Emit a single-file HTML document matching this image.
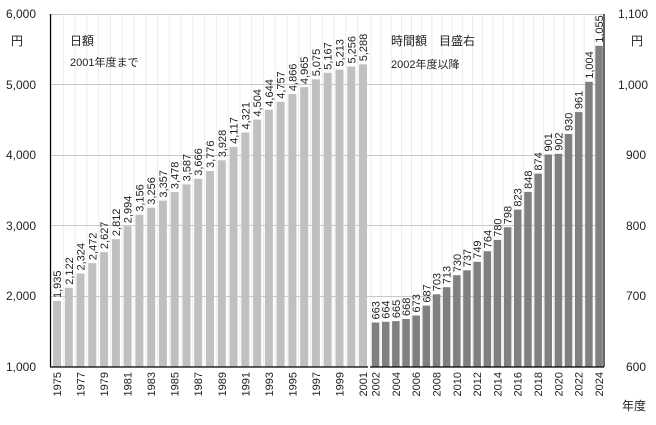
<!DOCTYPE html>
<html><head><meta charset="utf-8"><style>
html,body{margin:0;padding:0;background:#fff}
svg{display:block;font-family:"Liberation Sans","Noto Sans CJK JP",sans-serif}
</style></head><body>
<svg width="656" height="425" viewBox="0 0 656 425" xmlns="http://www.w3.org/2000/svg">
<defs>
<pattern id="pl" patternUnits="userSpaceOnUse" x="51.1" y="0" width="11.77" height="425"><line x1="0.5" y1="0" x2="0.5" y2="425" stroke="#ececec" stroke-width="1"/></pattern>
<pattern id="pr" patternUnits="userSpaceOnUse" x="370.4" y="0" width="10.16" height="425"><line x1="0.5" y1="0" x2="0.5" y2="425" stroke="#ececec" stroke-width="1"/></pattern>
</defs>
<rect x="51" y="14" width="317" height="353" fill="url(#pl)"/>
<rect x="370" y="14" width="234" height="353" fill="url(#pr)"/>
<g stroke="#c8c8c8" stroke-width="1">
<line x1="50" y1="14.5" x2="604" y2="14.5"/>
<line x1="50" y1="84.5" x2="604" y2="84.5"/>
<line x1="50" y1="155.5" x2="604" y2="155.5"/>
<line x1="50" y1="225.5" x2="604" y2="225.5"/>
<line x1="50" y1="296.5" x2="604" y2="296.5"/>
</g>
<g fill="#c0c0c0">
<rect x="53" y="301" width="8" height="66"/>
<rect x="64.8" y="287.8" width="8" height="79.2"/>
<rect x="76.5" y="273.5" width="8" height="93.5"/>
<rect x="88.3" y="263.1" width="8" height="103.9"/>
<rect x="100.1" y="252.1" width="8" height="114.9"/>
<rect x="111.9" y="239.1" width="8" height="127.9"/>
<rect x="123.6" y="226.2" width="8" height="140.8"/>
<rect x="135.4" y="214.8" width="8" height="152.2"/>
<rect x="147.2" y="207.7" width="8" height="159.3"/>
<rect x="158.9" y="200.6" width="8" height="166.4"/>
<rect x="170.7" y="192.1" width="8" height="174.9"/>
<rect x="182.5" y="184.4" width="8" height="182.6"/>
<rect x="194.2" y="178.8" width="8" height="188.2"/>
<rect x="206" y="171" width="8" height="196"/>
<rect x="217.8" y="160.3" width="8" height="206.7"/>
<rect x="229.6" y="146.9" width="8" height="220.1"/>
<rect x="241.3" y="132.5" width="8" height="234.5"/>
<rect x="253.1" y="119.6" width="8" height="247.4"/>
<rect x="264.9" y="109.7" width="8" height="257.3"/>
<rect x="276.6" y="101.8" width="8" height="265.2"/>
<rect x="288.4" y="94.1" width="8" height="272.9"/>
<rect x="300.2" y="87.1" width="8" height="279.9"/>
<rect x="311.9" y="79.3" width="8" height="287.7"/>
<rect x="323.7" y="72.8" width="8" height="294.2"/>
<rect x="335.5" y="69.6" width="8" height="297.4"/>
<rect x="347.3" y="66.5" width="8" height="300.5"/>
<rect x="359" y="64.3" width="8" height="302.7"/>
</g>
<g fill="#808080">
<rect x="371.8" y="322.5" width="7.5" height="44.5"/>
<rect x="382" y="321.8" width="7.5" height="45.2"/>
<rect x="392.1" y="321.1" width="7.5" height="45.9"/>
<rect x="402.3" y="319" width="7.5" height="48"/>
<rect x="412.4" y="315.5" width="7.5" height="51.5"/>
<rect x="422.6" y="305.6" width="7.5" height="61.4"/>
<rect x="432.8" y="294.3" width="7.5" height="72.7"/>
<rect x="442.9" y="287.2" width="7.5" height="79.8"/>
<rect x="453.1" y="275.2" width="7.5" height="91.8"/>
<rect x="463.2" y="270.3" width="7.5" height="96.7"/>
<rect x="473.4" y="261.8" width="7.5" height="105.2"/>
<rect x="483.6" y="251.2" width="7.5" height="115.8"/>
<rect x="493.7" y="239.9" width="7.5" height="127.1"/>
<rect x="503.9" y="227.2" width="7.5" height="139.8"/>
<rect x="514" y="209.6" width="7.5" height="157.4"/>
<rect x="524.2" y="191.9" width="7.5" height="175.1"/>
<rect x="534.4" y="173.6" width="7.5" height="193.4"/>
<rect x="544.5" y="154.5" width="7.5" height="212.5"/>
<rect x="554.7" y="153.8" width="7.5" height="213.2"/>
<rect x="564.8" y="134" width="7.5" height="233"/>
<rect x="575" y="112.1" width="7.5" height="254.9"/>
<rect x="585.2" y="81.8" width="7.5" height="285.2"/>
<rect x="595.3" y="45.8" width="7.5" height="321.2"/>
</g>
<g stroke="#000" stroke-width="1.2">
<line x1="50.5" y1="14" x2="50.5" y2="367"/>
<line x1="604" y1="14" x2="604" y2="367"/>
<line x1="50" y1="367" x2="368" y2="367"/>
<line x1="370" y1="367" x2="604" y2="367"/>
</g>
<g font-size="11" fill="#222">
<text transform="translate(61,298) rotate(-90)">1,935</text>
<text transform="translate(72.8,284.8) rotate(-90)">2,122</text>
<text transform="translate(84.5,270.5) rotate(-90)">2,324</text>
<text transform="translate(96.3,260.1) rotate(-90)">2,472</text>
<text transform="translate(108.1,249.1) rotate(-90)">2,627</text>
<text transform="translate(119.9,236.1) rotate(-90)">2,812</text>
<text transform="translate(131.6,223.2) rotate(-90)">2,994</text>
<text transform="translate(143.4,211.8) rotate(-90)">3,156</text>
<text transform="translate(155.2,204.7) rotate(-90)">3,256</text>
<text transform="translate(166.9,197.6) rotate(-90)">3,357</text>
<text transform="translate(178.7,189.1) rotate(-90)">3,478</text>
<text transform="translate(190.5,181.4) rotate(-90)">3,587</text>
<text transform="translate(202.2,175.8) rotate(-90)">3,666</text>
<text transform="translate(214,168) rotate(-90)">3,776</text>
<text transform="translate(225.8,157.3) rotate(-90)">3,928</text>
<text transform="translate(237.6,143.9) rotate(-90)">4,117</text>
<text transform="translate(249.3,129.5) rotate(-90)">4,321</text>
<text transform="translate(261.1,116.6) rotate(-90)">4,504</text>
<text transform="translate(272.9,106.7) rotate(-90)">4,644</text>
<text transform="translate(284.6,98.8) rotate(-90)">4,757</text>
<text transform="translate(296.4,91.1) rotate(-90)">4,866</text>
<text transform="translate(308.2,84.1) rotate(-90)">4,965</text>
<text transform="translate(319.9,76.3) rotate(-90)">5,075</text>
<text transform="translate(331.7,69.8) rotate(-90)">5,167</text>
<text transform="translate(343.5,66.6) rotate(-90)">5,213</text>
<text transform="translate(355.3,63.5) rotate(-90)">5,256</text>
<text transform="translate(367,61.3) rotate(-90)">5,288</text>
<text transform="translate(379.5,319.5) rotate(-90)">663</text>
<text transform="translate(389.7,318.8) rotate(-90)">664</text>
<text transform="translate(399.8,318.1) rotate(-90)">665</text>
<text transform="translate(410,316) rotate(-90)">668</text>
<text transform="translate(420.1,312.5) rotate(-90)">673</text>
<text transform="translate(430.3,302.6) rotate(-90)">687</text>
<text transform="translate(440.5,291.3) rotate(-90)">703</text>
<text transform="translate(450.6,284.2) rotate(-90)">713</text>
<text transform="translate(460.8,272.2) rotate(-90)">730</text>
<text transform="translate(470.9,267.3) rotate(-90)">737</text>
<text transform="translate(481.1,258.8) rotate(-90)">749</text>
<text transform="translate(491.3,248.2) rotate(-90)">764</text>
<text transform="translate(501.4,236.9) rotate(-90)">780</text>
<text transform="translate(511.6,224.2) rotate(-90)">798</text>
<text transform="translate(521.7,206.6) rotate(-90)">823</text>
<text transform="translate(531.9,188.9) rotate(-90)">848</text>
<text transform="translate(542.1,170.6) rotate(-90)">874</text>
<text transform="translate(552.2,151.5) rotate(-90)">901</text>
<text transform="translate(562.4,150.8) rotate(-90)">902</text>
<text transform="translate(572.5,131) rotate(-90)">930</text>
<text transform="translate(582.7,109.1) rotate(-90)">961</text>
<text transform="translate(592.9,78.8) rotate(-90)">1,004</text>
<text transform="translate(603,42.8) rotate(-90)">1,055</text>
</g>
<g font-size="11" fill="#222" text-anchor="end">
<text transform="translate(61,372) rotate(-90)">1975</text>
<text transform="translate(84.5,372) rotate(-90)">1977</text>
<text transform="translate(108.1,372) rotate(-90)">1979</text>
<text transform="translate(131.6,372) rotate(-90)">1981</text>
<text transform="translate(155.2,372) rotate(-90)">1983</text>
<text transform="translate(178.7,372) rotate(-90)">1985</text>
<text transform="translate(202.2,372) rotate(-90)">1987</text>
<text transform="translate(225.8,372) rotate(-90)">1989</text>
<text transform="translate(249.3,372) rotate(-90)">1991</text>
<text transform="translate(272.9,372) rotate(-90)">1993</text>
<text transform="translate(296.4,372) rotate(-90)">1995</text>
<text transform="translate(319.9,372) rotate(-90)">1997</text>
<text transform="translate(343.5,372) rotate(-90)">1999</text>
<text transform="translate(367,372) rotate(-90)">2001</text>
<text transform="translate(379.5,372) rotate(-90)">2002</text>
<text transform="translate(399.8,372) rotate(-90)">2004</text>
<text transform="translate(420.1,372) rotate(-90)">2006</text>
<text transform="translate(440.5,372) rotate(-90)">2008</text>
<text transform="translate(460.8,372) rotate(-90)">2010</text>
<text transform="translate(481.1,372) rotate(-90)">2012</text>
<text transform="translate(501.4,372) rotate(-90)">2014</text>
<text transform="translate(521.7,372) rotate(-90)">2016</text>
<text transform="translate(542.1,372) rotate(-90)">2018</text>
<text transform="translate(562.4,372) rotate(-90)">2020</text>
<text transform="translate(582.7,372) rotate(-90)">2022</text>
<text transform="translate(603,372) rotate(-90)">2024</text>
</g>
<g font-size="12" fill="#222" text-anchor="end">
<text x="36" y="18">6,000</text>
<text x="36" y="89">5,000</text>
<text x="36" y="159">4,000</text>
<text x="36" y="230">3,000</text>
<text x="36" y="300">2,000</text>
<text x="36" y="371">1,000</text>
</g>
<g font-size="12" fill="#222">
<text x="618" y="18">1,100</text>
<text x="618" y="89">1,000</text>
<text x="626" y="159">900</text>
<text x="626" y="230">800</text>
<text x="626" y="300">700</text>
<text x="626" y="371">600</text>
<text x="11" y="45">円</text>
<text x="631" y="45">円</text>
<text x="70" y="45">日額</text>
<text x="391" y="45">時間額　目盛右</text>
<text x="622" y="410">年度</text>
</g>
<g font-size="11" fill="#222">
<text x="70" y="66">2001年度まで</text>
<text x="391" y="68">2002年度以降</text>
</g>
</svg>
</body></html>
